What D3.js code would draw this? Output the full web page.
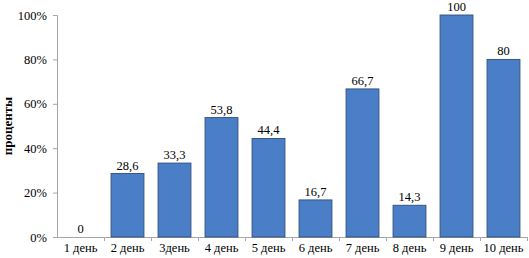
<!DOCTYPE html>
<html>
<head>
<meta charset="utf-8">
<script src="https://cdn.jsdelivr.net/npm/d3@7"></script>
<style>
body { margin: 0; background: #fff; }
svg text { font-family: "Liberation Serif", serif !important; }
</style>
</head>
<body>
<svg id="chart" width="529" height="258"></svg>
<script>
// days and percent values
const days = ["1 день", "2 день", "3день", "4 день", "5 день", "6 день", "7 день", "8 день", "9 день", "10 день"];
const values = [0, 28.6, 33.3, 53.8, 44.4, 16.7, 66.7, 14.3, 100, 80];
const labels = ["0", "28,6", "33,3", "53,8", "44,4", "16,7", "66,7", "14,3", "100", "80"];
const yTicks = [0, 20, 40, 60, 80, 100];

let svg = d3.select("#chart");
let mLeft = 57, mRight = 527, mTop = 15, mBottom = 237;
let fs = 12.5;

let x = d3.scaleBand().domain(days).range([mLeft, mRight]).paddingInner(0.3).paddingOuter(0.15);
let xb = d3.scaleBand().domain(days).range([mLeft, mRight]);
let y = d3.scaleLinear().domain([0, 100]).range([mBottom, mTop]);

// y axis
let yAxis = svg.append("g").attr("transform", `translate(${mLeft},0)`)
  .call(d3.axisLeft(y).tickValues(yTicks).tickSize(4).tickFormat(d => d + "%"));
yAxis.select(".domain").attr("stroke", "#a6a6a6");
yAxis.selectAll(".tick line").attr("stroke", "#a6a6a6");
yAxis.selectAll(".tick text").attr("font-size", fs).attr("fill", "#000").attr("x", -10);

// x axis line with ticks on band boundaries
svg.append("line").attr("x1", mLeft).attr("x2", mRight).attr("y1", mBottom + 0.5).attr("y2", mBottom + 0.5).attr("stroke", "#a6a6a6");
svg.selectAll(".xt").data(days).enter().append("line")
  .attr("x1", d => xb(d) + xb.bandwidth() + 0.5).attr("x2", d => xb(d) + xb.bandwidth() + 0.5)
  .attr("y1", mBottom).attr("y2", mBottom + 4).attr("stroke", "#a6a6a6");

svg.selectAll(".xl").data(days).enter().append("text")
  .attr("x", d => xb(d) + xb.bandwidth() / 2)
  .attr("y", 252)
  .attr("text-anchor", "middle")
  .attr("font-size", fs)
  .text(d => d);

// bars
svg.selectAll(".bar").data(values).enter().append("rect")
  .attr("x", (d, i) => x(days[i]))
  .attr("y", d => y(d))
  .attr("width", x.bandwidth())
  .attr("height", d => mBottom - y(d))
  .attr("fill", "#4a7fc8")
  .attr("stroke", "#2f4f7a")
  .attr("stroke-width", 0.9);

// value labels
svg.selectAll(".val").data(values).enter().append("text")
  .attr("x", (d, i) => x(days[i]) + x.bandwidth() / 2)
  .attr("y", d => y(d) - 4)
  .attr("text-anchor", "middle")
  .attr("font-size", fs)
  .text((d, i) => labels[i]);

// y title
svg.append("text")
  .attr("transform", "translate(12,126) rotate(-90)")
  .attr("text-anchor", "middle")
  .attr("font-size", 13)
  .attr("font-weight", "bold")
  .text("проценты");
</script>
</body>
</html>
